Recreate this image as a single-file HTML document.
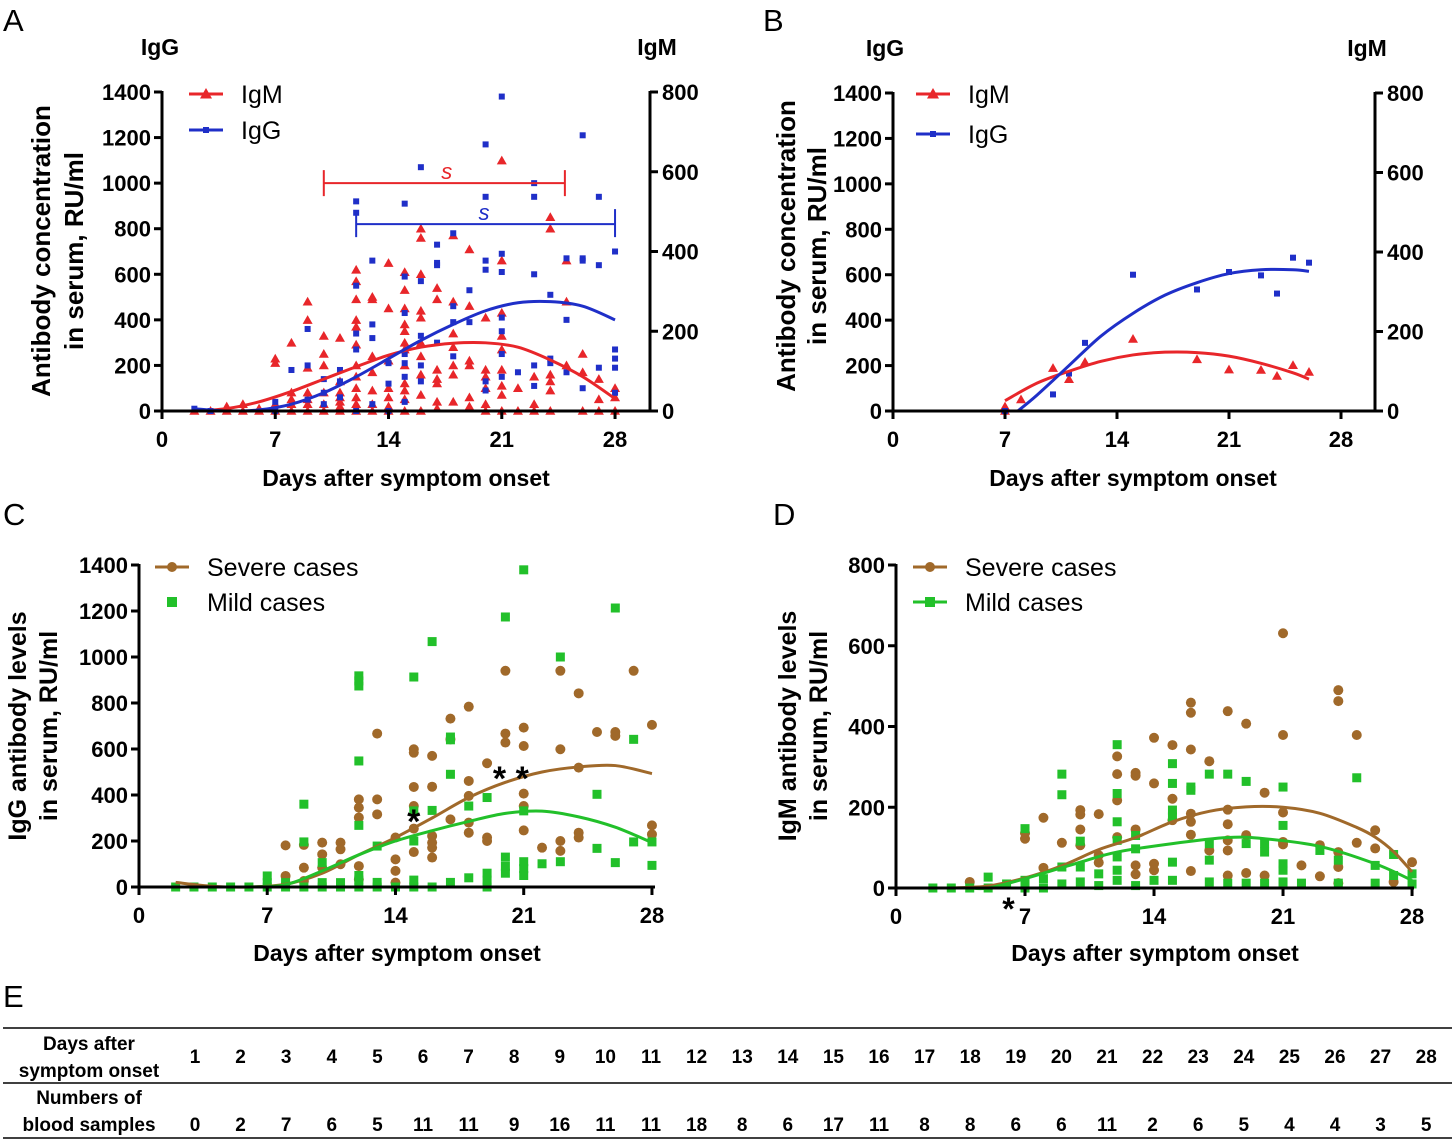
<!DOCTYPE html>
<html><head><meta charset="utf-8"><style>
body{margin:0;background:#fff}
svg{display:block;font-family:"Liberation Sans",sans-serif}
</style></head><body>
<svg id="fig" xmlns="http://www.w3.org/2000/svg" width="1456" height="1142" viewBox="0 0 1456 1142">
<rect width="1456" height="1142" fill="#fff"/>
</svg>
<script>
// ---------- DATA ----------
const aIgMDays=[2,3,4,5,6,7,8,9,10,11,12,13,14,15,16,17,18,19,20,21,22,23,24,25,26,27,28];
const aIgMVals=[[0],[0],[0,11],[0,17],[0,6],[131,120,0,17],[171,46,17,0,29],[274,228,108,46,17,0,29],[188,143,114,46,17,0],[183,74,46,23,11,0,34],[354,325,280,228,211,166,114,86,57,34,17,0],[286,280,137,97,51,17,0],[371,257,126,57,34,11,0],[348,303,257,217,200,171,154,114,69,51,29,0],[457,434,343,251,234,171,137,91,40,0],[308,280,103,80,69,23,6],[440,274,194,160,114,91,23],[405,263,126,114,34,11],[234,103,86,57,17,0],[628,377,246,188,154,103,63,40,0],[57,0],[86,17,0],[486,457,91,74,51,0],[377,274,114],[143,97,0],[80,29,0],[57,34,0]];
const aIgGDays=[2,3,7,8,9,10,11,12,13,14,15,16,17,18,19,20,21,22,23,24,25,26,27,28];
const aIgGVals=[[10],[0],[40,0],[180],[360,200,50],[140,80,30],[180,130,60],[920,870,550,340,270,0],[660,380,320,30],[210,120,0],[910,590,430,250,210,150,40],[1070,570,330,200,130],[730,650,640,300],[780,460,390,240],[530,390],[1170,940,660,620,130,90],[1380,690,610,410,350,250,150],[170],[1000,940,600,200,110],[510,230,210],[670,400,170],[1210,670,660,100],[940,640,190],[700,270,230,190,80]];
const aFitDays=[2,4,6,8,10,12,14,16,18,20,22,24,26,28];
const aIgMFit=[0,6,23,49,80,111,140,160,170,171,160,128,86,31];
const aIgGFit=[10,0,5,30,80,150,230,310,380,440,475,480,460,400];

const bIgMDays=[7,7,8,10,11,12,15,19,21,23,24,25,26];
const bIgMVals=[11,0,29,108,80,123,181,130,104,103,88,115,98];
const bIgGDays=[7,10,11,12,15,19,21,23,24,25,26];
const bIgGVals=[0,73,165,300,600,535,612,597,517,675,653];
const bIgMFitDays=[7,9,11,13,15,17,19,21,23,25,26];
const bIgMFit=[26,70,100,125,141,148,147,138,120,96,80];
const bIgGFitDays=[7.8,9,11,13,15,17,19,21,23,25,26];
const bIgGFit=[0,70,200,330,430,510,565,605,622,622,615];

const cSevDays=[8,9,10,11,12,13,14,15,16,17,18,19,20,21,22,23,24,25,26,27,28];
const cSevVals=[[181,48],[183,84,26],[193,142,84],[193,164,99],[381,345,302,91,33],[667,381,316],[215,120,70,19],[599,584,435,352,254,152],[570,436,222,193,171,128],[732,642,294],[784,461,396,280,236],[538,215,200],[940,667,628],[693,613,406,352,246],[171],[940,599,200,157],[842,519,236,215],[674],[674,657],[940],[705,268,229]];
const cMildDays=[2,3,4,5,6,7,8,9,10,11,12,13,14,15,16,17,18,19,20,21,22,23,25,26,27,28];
const cMildVals=[[0],[0],[0],[0],[0],[0,19,48],[0,19],[360,196,0],[106,19,0],[0,19],[918,896,874,548,268,50,30,0],[178,0,20],[0],[913,331,200,30,0],[1067,333,0],[652,640,490,20],[352,40],[389,60,30,0],[1174,130,90,60],[1379,331,110,80,50],[101],[1000,110],[403,168],[1213,106],[642,196],[196,94]];
const cSevFitDays=[2,4,6,8,10,12,14,16,18,20,22,24,26,28];
const cSevFit=[20,3,0,12,60,140,215,300,389,455,500,522,528,493];
const cMildFitDays=[6,8,10,12,14,16,18,20,22,24,26,28];
const cMildFit=[0,10,70,140,200,245,285,320,330,305,260,193];

const dSevDays=[4,7,8,9,10,11,12,13,14,15,16,17,18,19,20,21,22,23,24,25,26,27,28];
const dSevVals=[[15],[122,136],[174,50],[112],[193,182,145,106],[183,81,63],[326,282,217,126],[285,278,145,56,34],[372,259,60,44],[354,221,168],[459,434,343,184,164,132,42],[314,93],[438,194,158,118,93,31],[407,131,37],[236,31],[631,379,187,114,108],[56],[106,29],[490,463,89,52,12],[379,112],[143,98],[15],[64]];
const dMildDays=[2,3,4,5,6,7,8,9,10,11,12,13,14,15,16,17,18,19,20,21,22,23,24,25,26,27,28];
const dMildVals=[[0],[0],[0],[27,0],[10],[147,19,0],[23,0],[282,231,52,10],[116,52,15],[35,6],[355,234,164,118,77,44,19],[130,97,6],[19],[308,259,193,176,64,19],[250,242],[282,110,69,15],[282,12],[264,110,12],[110,89,12],[250,155,60,44,15],[12],[93],[69,12],[273],[56,12],[83,31],[35,10]];
const dSevFitDays=[3,5,7,9,11,13,15,17,19,21,23,25,26,27,28];
const dSevFit=[0,5,25,55,95,125,164,190,201,200,185,150,126,90,40];
const dMildFitDays=[4,5,7,10,12,15,18,20,23,26,28];
const dMildFit=[0,0,23,64,89,110,125,122,103,60,19];

const tableDays=[1,2,3,4,5,6,7,8,9,10,11,12,13,14,15,16,17,18,19,20,21,22,23,24,25,26,27,28];
const tableCounts=[0,2,7,6,5,11,11,9,16,11,11,18,8,6,17,11,8,8,6,6,11,2,6,5,4,4,3,5];
const xTicks=[0,7,14,21,28];
const tickIgG=[0,200,400,600,800,1000,1200,1400];
const tickIgM=[0,200,400,600,800];

// ---------- HELPERS ----------
const NS="http://www.w3.org/2000/svg";
const svg=document.getElementById('fig');
function el(tag,attrs,parent){const e=document.createElementNS(NS,tag);for(const k in attrs)e.setAttribute(k,attrs[k]);(parent||svg).appendChild(e);return e;}
function txt(s,x,y,size,weight,anchor,parent,extra){const t=el('text',Object.assign({x:x,y:y,'font-size':size,'font-weight':weight,'text-anchor':anchor,fill:'#000'},extra||{}),parent);t.textContent=s;return t;}
const RED='#e8262a',BLUE='#1f2fc8',BROWN='#a0692a',GREEN='#22c02a';

function marker(kind,x,y,color,s,g){
  let m;
  if(kind==='tri')m=el('polygon',{points:`${x},${y-s} ${x-s},${y+s*0.75} ${x+s},${y+s*0.75}`,fill:color},g);
  else if(kind==='sq')m=el('rect',{x:x-s/2,y:y-s/2,width:s,height:s,fill:color},g);
  else m=el('circle',{cx:x,cy:y,r:s/2,fill:color},g);
  return m;
}
function smoothPath(pts){
  let d=`M${pts[0][0]},${pts[0][1]}`;
  for(let i=0;i<pts.length-1;i++){
    const p0=pts[i-1]||pts[i],p1=pts[i],p2=pts[i+1],p3=pts[i+2]||p2;
    const c1=[p1[0]+(p2[0]-p0[0])/6,p1[1]+(p2[1]-p0[1])/6];
    const c2=[p2[0]-(p3[0]-p1[0])/6,p2[1]-(p3[1]-p1[1])/6];
    d+=` C${c1[0]},${c1[1]} ${c2[0]},${c2[1]} ${p2[0]},${p2[1]}`;
  }
  return d;
}
function drawAxes(g,xs,yL,x0,x1,y0,yTop,leftTicks,rightY,rightTicks,rightX){
  const ax=el('line',{x1:x0,y1:y0,x2:x1,y2:y0,stroke:'#000','stroke-width':3},g);
  
  
  const ay=el('line',{x1:x0,y1:yTop-1,x2:x0,y2:y0+1,stroke:'#000','stroke-width':3},g);
  
  
  xTicks.forEach(t=>{
    const tk=el('line',{x1:xs(t),y1:y0,x2:xs(t),y2:y0+8,stroke:'#000','stroke-width':3},g);
    
    
    const lb=txt(String(t),xs(t),y0+36,22,'bold','middle',g);
    
    
  });
  leftTicks.forEach(t=>{
    const tk=el('line',{x1:x0-8,y1:yL(t),x2:x0,y2:yL(t),stroke:'#000','stroke-width':3},g);
    
    
    const lb=txt(String(t),x0-11,yL(t)+8,22,'bold','end',g);
    
    
  });
  if(rightY){
    const ar=el('line',{x1:rightX,y1:yTop-1,x2:rightX,y2:y0+1,stroke:'#000','stroke-width':3},g);
    
    
    rightTicks.forEach(t=>{
      const tk=el('line',{x1:rightX,y1:rightY(t),x2:rightX+8,y2:rightY(t),stroke:'#000','stroke-width':3},g);
      
      
      const lb=txt(String(t),rightX+12,rightY(t)+8,22,'bold','start',g);
      
      
    });
  }
}
function scatterGroups(g,days,vals,xs,ys,kind,color,s,name){
  days.forEach((d,i)=>{vals[i].forEach(v=>{
    const m=marker(kind,xs(d),ys(v),color,s,g);
    
    
  });});
}
function scatterFlat(g,days,vals,xs,ys,kind,color,s,name){
  days.forEach((d,i)=>{
    const m=marker(kind,xs(d),ys(vals[i]),color,s,g);
    
    
  });
}
function curve(g,days,vals,xs,ys,color,name){
  const p=el('path',{d:smoothPath(days.map((d,i)=>[xs(d),ys(vals[i])])),fill:'none',stroke:color,'stroke-width':3},g);
  
  
}
function yTitle(g,l1,l2,x1,x2,cy,size){
  const t1=txt(l1,0,0,size,'bold','middle',g,{transform:`translate(${x1},${cy}) rotate(-90)`});
  
  
  const t2=txt(l2,0,0,size,'bold','middle',g,{transform:`translate(${x2},${cy}) rotate(-90)`});
  
  
}
function legendEntry(g,x,y,kind,color,label,withLine,s){
  const grp=el('g',{},g);
  
  
  if(withLine){const l=el('line',{x1:x,y1:y,x2:x+34,y2:y,stroke:color,'stroke-width':3},grp);
    
    }
  const m=marker(kind,x+17,y,color,s,grp);
  
  
  const t=txt(label,x+52,y+9,25,'normal','start',grp);
  
  
}

// ---------- PANEL A ----------
(function(){
  const g=el('g',{});
  
  
  const xs=d=>162+d*16.18, yL=v=>411-v*319/1400, yR=v=>411-v*319/800;
  const pl=txt('A',3,31,31,'normal','start',g);
  
  
  const h1=txt('IgG',160,55,23,'bold','middle',g);
  
  
  const h2=txt('IgM',657,55,23,'bold','middle',g);
  
  
  scatterGroups(g,aIgMDays,aIgMVals,xs,yR,'tri',RED,5,'igm-point');
  scatterGroups(g,aIgGDays,aIgGVals,xs,yL,'sq',BLUE,6,'igg-point');
  curve(g,aFitDays,aIgMFit,xs,yR,RED,'igm-fit-curve');
  curve(g,aFitDays,aIgGFit,xs,yL,BLUE,'igg-fit-curve');
  drawAxes(g,xs,yL,162,650,411,92,tickIgG,yR,tickIgM,650);
  const sb1=el('path',{d:`M${xs(10)},${yL(1000)-13}V${yL(1000)+13}M${xs(10)},${yL(1000)}H${xs(24.9)}M${xs(24.9)},${yL(1000)-13}V${yL(1000)+13}`,stroke:RED,'stroke-width':2,fill:'none'},g);
  
  
  const s1=txt('s',xs(17.6),yL(1000)-4,22,'normal','middle',g,{fill:RED,'font-style':'italic'});
  
  
  const sb2=el('path',{d:`M${xs(12)},${yL(820)-13}V${yL(820)+13}M${xs(12)},${yL(820)}H${xs(28)}M${xs(28)},${yL(820)-15}V${yL(820)+13}`,stroke:BLUE,'stroke-width':2,fill:'none'},g);
  
  
  const s2=txt('s',xs(19.9),yL(820)-4,22,'normal','middle',g,{fill:BLUE,'font-style':'italic'});
  
  
  yTitle(g,'Antibody concentration','in serum, RU/ml',50,83,251,26);
  const xt=txt('Days after symptom onset',406,486,23,'bold','middle',g);
  
  
  legendEntry(g,189,94,'tri',RED,'IgM',true,6);
  legendEntry(g,189,130,'sq',BLUE,'IgG',true,6);
})();

// ---------- PANEL B ----------
(function(){
  const g=el('g',{});
  
  
  const xs=d=>893+d*16.0, yL=v=>411-v*318/1400, yR=v=>411-v*318/800;
  const pl=txt('B',763,31,31,'normal','start',g);
  
  
  const h1=txt('IgG',885,56,23,'bold','middle',g);
  
  
  const h2=txt('IgM',1367,56,23,'bold','middle',g);
  
  
  scatterFlat(g,bIgMDays,bIgMVals,xs,yR,'tri',RED,5,'igm-point');
  scatterFlat(g,bIgGDays,bIgGVals,xs,yL,'sq',BLUE,6,'igg-point');
  curve(g,bIgMFitDays,bIgMFit,xs,yR,RED,'igm-fit-curve');
  curve(g,bIgGFitDays,bIgGFit,xs,yL,BLUE,'igg-fit-curve');
  drawAxes(g,xs,yL,893,1375,411,93,tickIgG,yR,tickIgM,1375);
  yTitle(g,'Antibody concentration','in serum, RU/ml',795,826,246,26);
  const xt=txt('Days after symptom onset',1133,486,23,'bold','middle',g);
  
  
  legendEntry(g,916,94,'tri',RED,'IgM',true,6);
  legendEntry(g,916,134,'sq',BLUE,'IgG',true,6);
})();

// ---------- PANEL C ----------
(function(){
  const g=el('g',{});
  
  
  const xs=d=>139+d*18.32, yL=v=>887-v*322/1400;
  const pl=txt('C',3,525,31,'normal','start',g);
  
  
  scatterGroups(g,cSevDays,cSevVals,xs,yL,'circ',BROWN,10,'severe-point');
  scatterGroups(g,cMildDays,cMildVals,xs,yL,'sq',GREEN,9,'mild-point');
  curve(g,cSevFitDays,cSevFit,xs,yL,BROWN,'severe-fit-curve');
  curve(g,cMildFitDays,cMildFit,xs,yL,GREEN,'mild-fit-curve');
  drawAxes(g,xs,yL,139,655,887,565,tickIgG,null,null,null);
  const st1=txt('*',xs(15),yL(240)+1,34,'bold','middle',g);
  
  
  const st2=txt('* *',xs(20.3),yL(430)+2,34,'bold','middle',g,{'xml:space':'preserve'});
  
  
  yTitle(g,'IgG antibody levels','in serum, RU/ml',26,57,726,25);
  const xt=txt('Days after symptom onset',397,961,23,'bold','middle',g);
  
  
  legendEntry(g,155,567,'circ',BROWN,'Severe cases',true,10);
  legendEntry(g,155,602,'sq',GREEN,'Mild cases',false,10);
})();

// ---------- PANEL D ----------
(function(){
  const g=el('g',{});
  
  
  const xs=d=>896+d*18.43, yL=v=>888-v*323/800;
  const pl=txt('D',773,525,31,'normal','start',g);
  
  
  scatterGroups(g,dSevDays,dSevVals,xs,yL,'circ',BROWN,10,'severe-point');
  scatterGroups(g,dMildDays,dMildVals,xs,yL,'sq',GREEN,9,'mild-point');
  curve(g,dSevFitDays,dSevFit,xs,yL,BROWN,'severe-fit-curve');
  curve(g,dMildFitDays,dMildFit,xs,yL,GREEN,'mild-fit-curve');
  drawAxes(g,xs,yL,896,1414,888,565,tickIgM,null,null,null);
  const st=txt('*',xs(6.1),920,32,'bold','middle',g);
  
  
  yTitle(g,'IgM antibody levels','in serum, RU/ml',796,827,726,25);
  const xt=txt('Days after symptom onset',1155,961,23,'bold','middle',g);
  
  
  legendEntry(g,913,567,'circ',BROWN,'Severe cases',true,10);
  legendEntry(g,913,602,'sq',GREEN,'Mild cases',true,10);
})();

// ---------- TABLE E ----------
(function(){
  const g=el('g',{});
  
  
  const pl=txt('E',3,1007,31,'normal','start',g);
  
  
  [1028,1083,1138].forEach(y=>{
    const l=el('line',{x1:3,y1:y,x2:1452,y2:y,stroke:'#000','stroke-width':1.5},g);
    
    
  });
  const hdr=[['Days  after',89,1050],['symptom onset',89,1077],['Numbers of',89,1104],['blood samples',89,1131]];
  hdr.forEach(h=>{
    const t=txt(h[0],h[1],h[2],19,'bold','middle',g,{'xml:space':'preserve'});
    
    
  });
  tableDays.forEach((d,i)=>{
    const x=195+i*45.6;
    const t1=txt(String(d),x,1063,19,'bold','middle',g);
    
    
    const t2=txt(String(tableCounts[i]),x,1131,19,'bold','middle',g);
    
    
  });
})();
</script>
</body></html>
